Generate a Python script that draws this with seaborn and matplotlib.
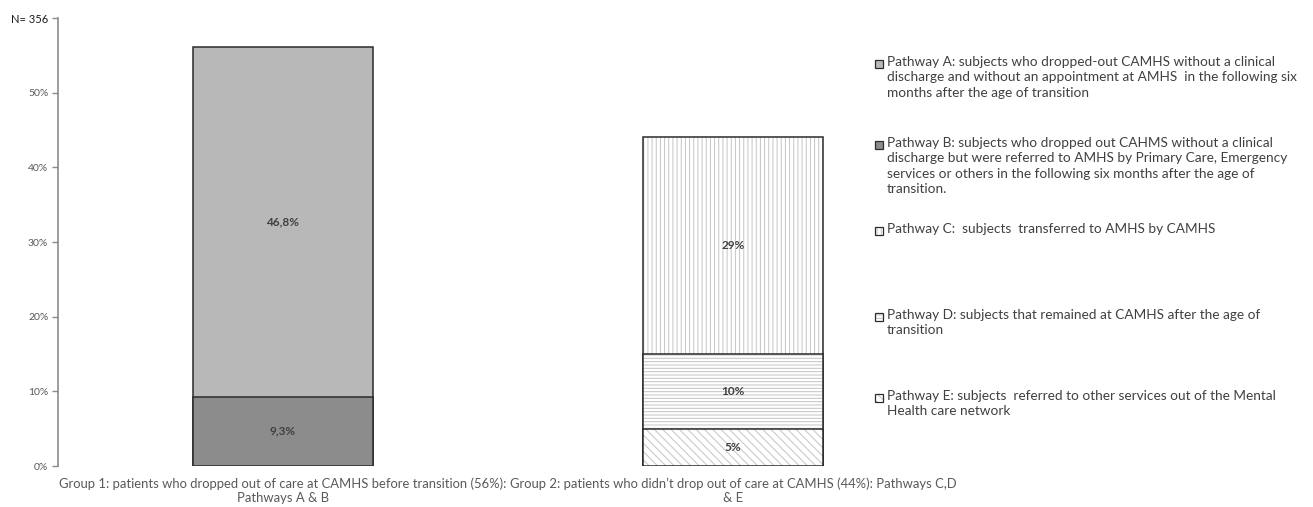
import pandas as pd
import matplotlib
matplotlib.use("Agg")
import matplotlib.pyplot as plt
from matplotlib.patches import Rectangle
import seaborn as sns

# --- data ---
groups = [
    "Group 1: patients who dropped out of care at CAMHS before transition (56%):\nPathways A & B",
    "Group 2: patients who didn\u2019t drop out of care at CAMHS (44%): Pathways C,D\n& E",
]
pathways = ["B", "A", "E", "D", "C"]      # bottom to top inside each bar
pathway_group = [0, 0, 1, 1, 1]
percent = [9.3, 46.8, 5, 10, 29]

y_ticks = [0, 10, 20, 30, 40, 50, 60]
y_ticklabels = ["0%", "10%", "20%", "30%", "40%", "50%", "N= 356"]

legend_keys = ["A", "B", "C", "D", "E"]
legend_texts = [
    "Pathway A: subjects who dropped-out CAMHS without a clinical\n"
    "discharge and without an appointment at AMHS  in the following six\n"
    "months after the age of transition",
    "Pathway B: subjects who dropped out CAHMS without a clinical\n"
    "discharge but were referred to AMHS by Primary Care, Emergency\n"
    "services or others in the following six months after the age of\n"
    "transition.",
    "Pathway C:  subjects  transferred to AMHS by CAMHS",
    "Pathway D: subjects that remained at CAMHS after the age of\n"
    "transition",
    "Pathway E: subjects  referred to other services out of the Mental\n"
    "Health care network",
]

# --- styles ---
styles = {
    "A": dict(face="#b8b8b8", hatch=None),
    "B": dict(face="#8c8c8c", hatch=None),
    "C": dict(face="white", hatch="||||"),
    "D": dict(face="white", hatch="-----"),
    "E": dict(face="white", hatch="\\\\\\\\"),
}
HATCH = "#c4c4c4"
OUTLINE = "#2b2b2b"
W, H = 1313, 507

sns.set_style("white")
plt.rcParams["font.family"] = ["Lato", "DejaVu Sans"]
plt.rcParams["hatch.linewidth"] = 0.7

fig = plt.figure(figsize=(W / 100, H / 100), dpi=100)
ax = fig.add_axes([58 / W, (H - 466) / H, 900 / W, 448 / H])

df = pd.DataFrame({
    "group": [groups[i] for i in pathway_group],
    "pathway": pathways,
    "percent": percent,
})
df["top"] = df.groupby("group")["percent"].cumsum()
df = df.sort_values("top", ascending=False)

# stacked bars: draw cumulative heights from tallest to shortest
for _, row in df.iterrows():
    st = styles[row["pathway"]]
    one = pd.DataFrame([row])
    sns.barplot(data=one, x="group", y="top", order=groups, width=0.4,
                color=st["face"], saturation=1, hatch=st["hatch"],
                edgecolor=HATCH, linewidth=0, errorbar=None, ax=ax)
    sns.barplot(data=one, x="group", y="top", order=groups, width=0.4,
                fill=False, color=OUTLINE, linewidth=1.1, errorbar=None, ax=ax)
    label = f"{row['percent']:g}".replace(".", ",") + "%"
    ax.text(groups.index(row["group"]), row["top"] - row["percent"] / 2, label,
            ha="center", va="center", fontsize=8.5, fontweight="bold", color="#404040")

ax.set_xlim(-0.5, 1.5)
ax.set_ylim(0, 60)
ax.set_yticks(y_ticks)
ax.set_yticklabels(y_ticklabels)
ax.set_xlabel("")
ax.set_ylabel("")
for s in ["top", "right", "bottom"]:
    ax.spines[s].set_visible(False)
ax.spines["left"].set_color("#8c8c8c")
ax.spines["left"].set_linewidth(1.2)
ax.tick_params(axis="y", left=True, length=4, width=1, color="#8c8c8c",
               labelsize=7.5, labelcolor="#595959", pad=3)
ax.tick_params(axis="x", length=0, labelsize=9.4, labelcolor="#595959", pad=8)
ax.get_yticklabels()[-1].set_color("#1a1a1a")
ax.get_yticklabels()[-1].set_fontsize(8)

# legend on the right, drawn in pixel coordinates
lax = fig.add_axes([0, 0, 1, 1])
lax.set_xlim(0, W)
lax.set_ylim(H, 0)
lax.axis("off")
legend_y = [64, 145, 231, 317, 398]
text_x = 887
for key, txt, y in zip(legend_keys, legend_texts, legend_y):
    st = styles[key]
    lax.add_patch(Rectangle((text_x - 12, y - 4), 8, 8, facecolor=st["face"],
                            hatch=st["hatch"], edgecolor=HATCH, linewidth=0))
    lax.add_patch(Rectangle((text_x - 12, y - 4), 8, 8, facecolor="none",
                            edgecolor=OUTLINE, linewidth=0.9))
    lax.text(text_x, y - 8, txt, ha="left", va="top", fontsize=9.8,
             color="#404040", linespacing=1.33)

fig.savefig("out.png", dpi=100)
